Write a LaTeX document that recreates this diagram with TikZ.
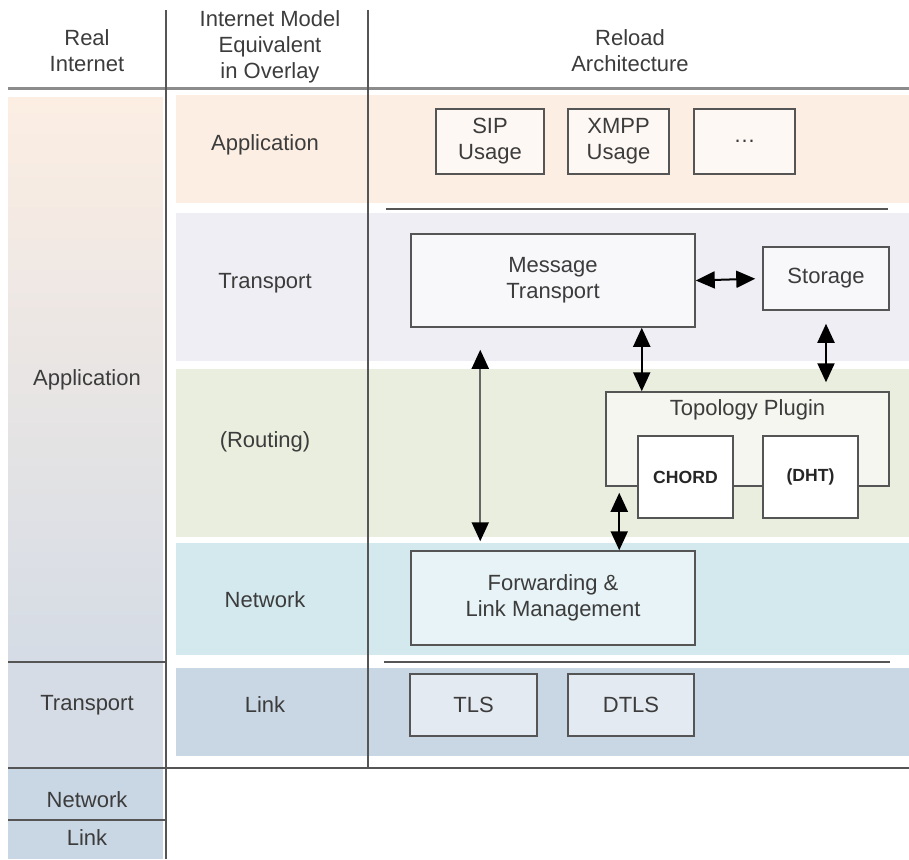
\documentclass[tikz,border=0pt]{standalone}
\usepackage{fontspec}
\setmainfont{Liberation Sans}
\usetikzlibrary{arrows.meta,calc}

\definecolor{appband}{HTML}{FCEEE3}
\definecolor{trnband}{HTML}{EFEEF4}
\definecolor{rtgband}{HTML}{EAEEDF}
\definecolor{netband}{HTML}{D3E9EE}
\definecolor{lnkband}{HTML}{C9D6E3}
\definecolor{leftlow}{HTML}{D5DCE5}
\definecolor{rule}{HTML}{555555}
\definecolor{ink}{HTML}{3C3C3C}

\begin{document}
\begin{tikzpicture}[x=0.5pt,y=-0.5pt,
  every node/.style={font=\fontsize{11}{13}\selectfont, text=ink, align=center},
  blk/.style={draw=rule, line width=0.75pt, inner sep=0pt},
  dbl/.style={{Triangle[length=9.5pt,width=8.5pt,color=black]}-{Triangle[length=9.5pt,width=8.5pt,color=black]},
    line width=1pt, black},
  sep/.style={draw=rule, line width=1pt}]
  \useasboundingbox (0,0) rectangle (909,859);

  % left column: real internet
  \shade[top color=appband, bottom color=leftlow] (8,97) rectangle (163,661);
  \fill[leftlow] (8,663) rectangle (163,767);
  \fill[lnkband] (8,769) rectangle (163,859);

  % overlay layer bands
  \fill[appband] (176,95) rectangle (909,203);
  \fill[trnband] (176,213) rectangle (909,361);
  \fill[rtgband] (176,369) rectangle (909,537);
  \fill[netband] (176,543) rectangle (909,655);
  \fill[lnkband] (176,668) rectangle (909,756);

  % rules
  \draw[line width=1.5pt, draw=gray!90] (8,88) -- (909,88);
  \draw[sep, line width=1.3pt] (166,10) -- (166,859);
  \draw[sep] (368,10) -- (368,768);
  \draw[sep] (8,662) -- (166,662);
  \draw[sep] (8,768) -- (909,768);
  \draw[sep] (8,820) -- (166,820);
  \draw[sep] (386,209) -- (888,209);
  \draw[sep] (384,662) -- (890,662);

  % headings
  \node (hreal) at (87,51) {Real\\Internet};
  \node (hmodel) at (270,47) {Internet Model\\Equivalent\\in Overlay};
  \node (hreload) at (630,51) {Reload\\Architecture};

  % layer names
  \node (lapp) at (87,380) {Application};
  \node (ltrn) at (87,705) {Transport};
  \node (lnet) at (87,800) {Network};
  \node (llnk) at (87,838) {Link};
  \node (oapp) at (265,145) {Application};
  \node (otrn) at (265,283) {Transport};
  \node (ortg) at (265,442) {(Routing)};
  \node (onet) at (265,600) {Network};
  \node (olnk) at (265,705) {Link};

  % usages
  \node[blk, fill=white!60!appband, minimum width=54pt, minimum height=32.5pt] (sip) at (490,141.5) {SIP\\Usage};
  \node[blk, fill=white!60!appband, minimum width=50.5pt, minimum height=32.5pt] (xmpp) at (618.5,141.5) {XMPP\\Usage};
  \node[blk, fill=white!60!appband, minimum width=50.5pt, minimum height=32.5pt] (more) at (744.5,141.5) {\dots};

  % transport
  \node[blk, fill=white!55!trnband, minimum width=142pt, minimum height=46.5pt] (msg) at (553,280.5) {Message\\Transport};
  \node[blk, fill=white!55!trnband, minimum width=63pt, minimum height=31.5pt] (sto) at (826,278.5) {Storage};

  % topology plugin
  \node[blk, fill=white!50!rtgband, minimum width=141.5pt, minimum height=47pt,
    label={[anchor=center, yshift=-9.5pt]north:Topology Plugin}] (topo) at (747.5,439) {};
  \node[blk, fill=white, minimum width=47.5pt, minimum height=41pt,
    font=\fontsize{8.8}{11}\selectfont\bfseries, text=black!85] (chord) at (685.5,477) {CHORD};
  \node[blk, fill=white, minimum width=47.5pt, minimum height=41pt,
    font=\fontsize{8.8}{11}\selectfont\bfseries, text=black!85] (dht) at (810.5,477) {(DHT)};

  % forwarding
  \node[blk, fill=white!45!netband, minimum width=142pt, minimum height=47pt] (fwd) at (553,598) {Forwarding \&\\Link Management};

  % link
  \node[blk, fill=white!50!lnkband, minimum width=63.5pt, minimum height=31pt] (tls) at (473.5,705) {TLS};
  \node[blk, fill=white!50!lnkband, minimum width=63pt, minimum height=31pt] (dtls) at (631,705) {DTLS};

  % arrows
  \draw[dbl, shorten >=3.5pt] (msg.east) -- (sto.west);
  \coordinate (mt) at ($(msg.south east)+(-54,0)$);
  \draw[dbl] (mt) -- (mt |- topo.north);
  \draw[dbl, shorten <=6.5pt, shorten >=4.5pt] (sto.south) -- (sto.south |- topo.north);
  \coordinate (la) at ($(msg.south west)+(70,22)$);
  \draw[dbl, draw=gray!80!black] (la) -- ($(fwd.north west)+(70,-9)$);
  \coordinate (tf) at ($(topo.south west)+(14,0)$);
  \draw[dbl, shorten <=3pt] (tf) -- (tf |- fwd.north);
\end{tikzpicture}
\end{document}
